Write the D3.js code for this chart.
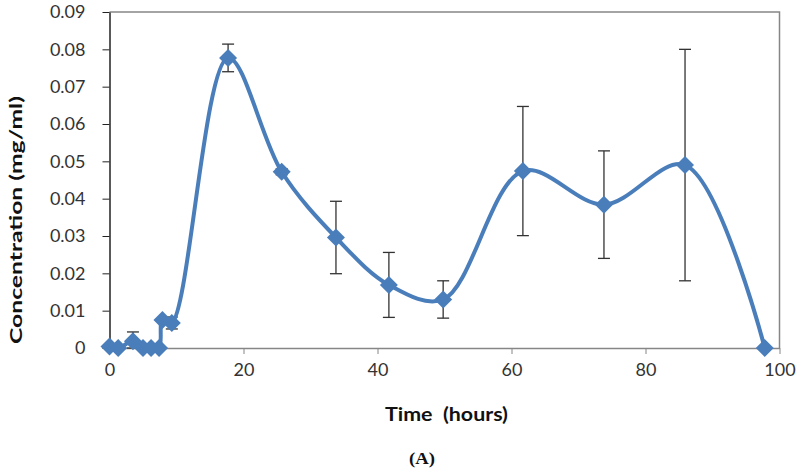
<!DOCTYPE html>
<html><head><meta charset="utf-8">
<script src="https://cdn.jsdelivr.net/npm/d3@7"></script>
<style>body{margin:0;background:#fff}svg{display:block}</style>
</head><body>
<svg id="c" width="800" height="469"></svg>
<script>
const hours = [0, 1.3, 3.5, 5.0, 6.2, 7.4, 7.9, 9.3, 17.7, 25.7, 33.8, 41.7, 49.8, 61.7, 73.8, 85.9, 97.8];
const concentration = [0.0004, 0, 0.0018, 0, 0, 0, 0.0075, 0.0067, 0.0777, 0.0472, 0.0296, 0.0169, 0.0130, 0.0474, 0.0384, 0.0490, 0];
const errorBars = [0, 0, 0.0025, 0, 0, 0, 0, 0.0016, 0.0037, 0.0008, 0.0097, 0.0087, 0.0050, 0.0173, 0.0144, 0.0310, 0];
const xTicks = [0, 20, 40, 60, 80, 100];
const yTicks = [0, 0.01, 0.02, 0.03, 0.04, 0.05, 0.06, 0.07, 0.08, 0.09];
const xTitle = "Time  (hours)";
const yTitle = "Concentration (mg/ml)";
const caption = "(A)";

const svg = d3.select("#c");
const L = 109.5, R = 779.5, T = 12, B = 348;
const x = d3.scaleLinear().domain([0, 100]).range([L, R]);
const y = d3.scaleLinear().domain([0, 0.09]).range([B, T]);
const font = "Lato, 'Open Sans', sans-serif";

// plot area border (top/right gray)
svg.append("path").attr("d", `M${L},${T}H${R}V${B}`).attr("fill", "none").attr("stroke", "#868686").attr("stroke-width", 1.5);

// x axis
const xa = svg.append("g").attr("transform", `translate(0,${B})`).call(d3.axisBottom(x).tickValues(xTicks).tickSize(6).tickSizeOuter(0).tickFormat(d3.format("d")));
xa.select(".domain").attr("stroke", "#868686").attr("stroke-width", 1.5);
xa.selectAll(".tick line").attr("stroke", "#868686");
xa.selectAll(".tick text").attr("font-family", font).attr("font-size", 18).attr("fill", "#333").attr("dy", "1.05em");

// y axis
const ya = svg.append("g").attr("transform", `translate(${L},0)`).call(d3.axisLeft(y).tickValues(yTicks).tickSize(7).tickSizeOuter(0).tickFormat(d => d === 0 ? "0" : d3.format(".2f")(d)));
ya.select(".domain").attr("stroke", "#222").attr("stroke-width", 1.5);
ya.selectAll(".tick line").attr("stroke", "#222");
ya.selectAll(".tick text").attr("font-family", font).attr("font-size", 18).attr("fill", "#333").attr("x", -24);

const data = hours.map((h, i) => ({h, v: concentration[i], e: errorBars[i]}));

// error bars
const eb = svg.append("g").attr("stroke", "#333").attr("stroke-width", 1.3);
data.filter(d => d.e > 0).forEach(d => {
  const cx = x(d.h), y1 = y(d.v + d.e), y2 = y(Math.max(0, d.v - d.e));
  eb.append("line").attr("x1", cx).attr("x2", cx).attr("y1", y1).attr("y2", y2);
  eb.append("line").attr("x1", cx - 6).attr("x2", cx + 6).attr("y1", y1).attr("y2", y1);
  eb.append("line").attr("x1", cx - 6).attr("x2", cx + 6).attr("y1", y2).attr("y2", y2);
});

// smoothed line
const line = d3.line().x(d => x(d.h)).y(d => y(d.v)).curve(d3.curveCatmullRom.alpha(0.5));
svg.append("path").datum(data).attr("d", line).attr("fill", "none").attr("stroke", "#4a7ebb").attr("stroke-width", 4);

// markers
svg.append("g").selectAll("path").data(data).join("path")
  .attr("transform", d => `translate(${x(d.h)},${y(d.v)})`)
  .attr("d", "M0,-9L9,0L0,9L-9,0Z").attr("fill", "#4a7ebb");

// titles
svg.append("text").attr("x", 446.5).attr("y", 421).attr("text-anchor", "middle").style("white-space", "pre")
  .attr("font-family", font).attr("font-weight", "bold").attr("font-size", 18).attr("fill", "#111")
  .attr("textLength", 123).attr("lengthAdjust", "spacingAndGlyphs").text(xTitle);
svg.append("text").attr("transform", "translate(22,220) rotate(-90)").attr("text-anchor", "middle")
  .attr("font-family", font).attr("font-weight", "bold").attr("font-size", 17).attr("fill", "#111")
  .attr("textLength", 248).attr("lengthAdjust", "spacingAndGlyphs").text(yTitle);
svg.append("text").attr("x", 422).attr("y", 464).attr("text-anchor", "middle")
  .attr("font-family", "'Liberation Serif', 'Times New Roman', serif").attr("font-weight", "bold").attr("font-size", 16).attr("fill", "#111")
  .attr("textLength", 26).attr("lengthAdjust", "spacingAndGlyphs").text(caption);
</script>
</body></html>
